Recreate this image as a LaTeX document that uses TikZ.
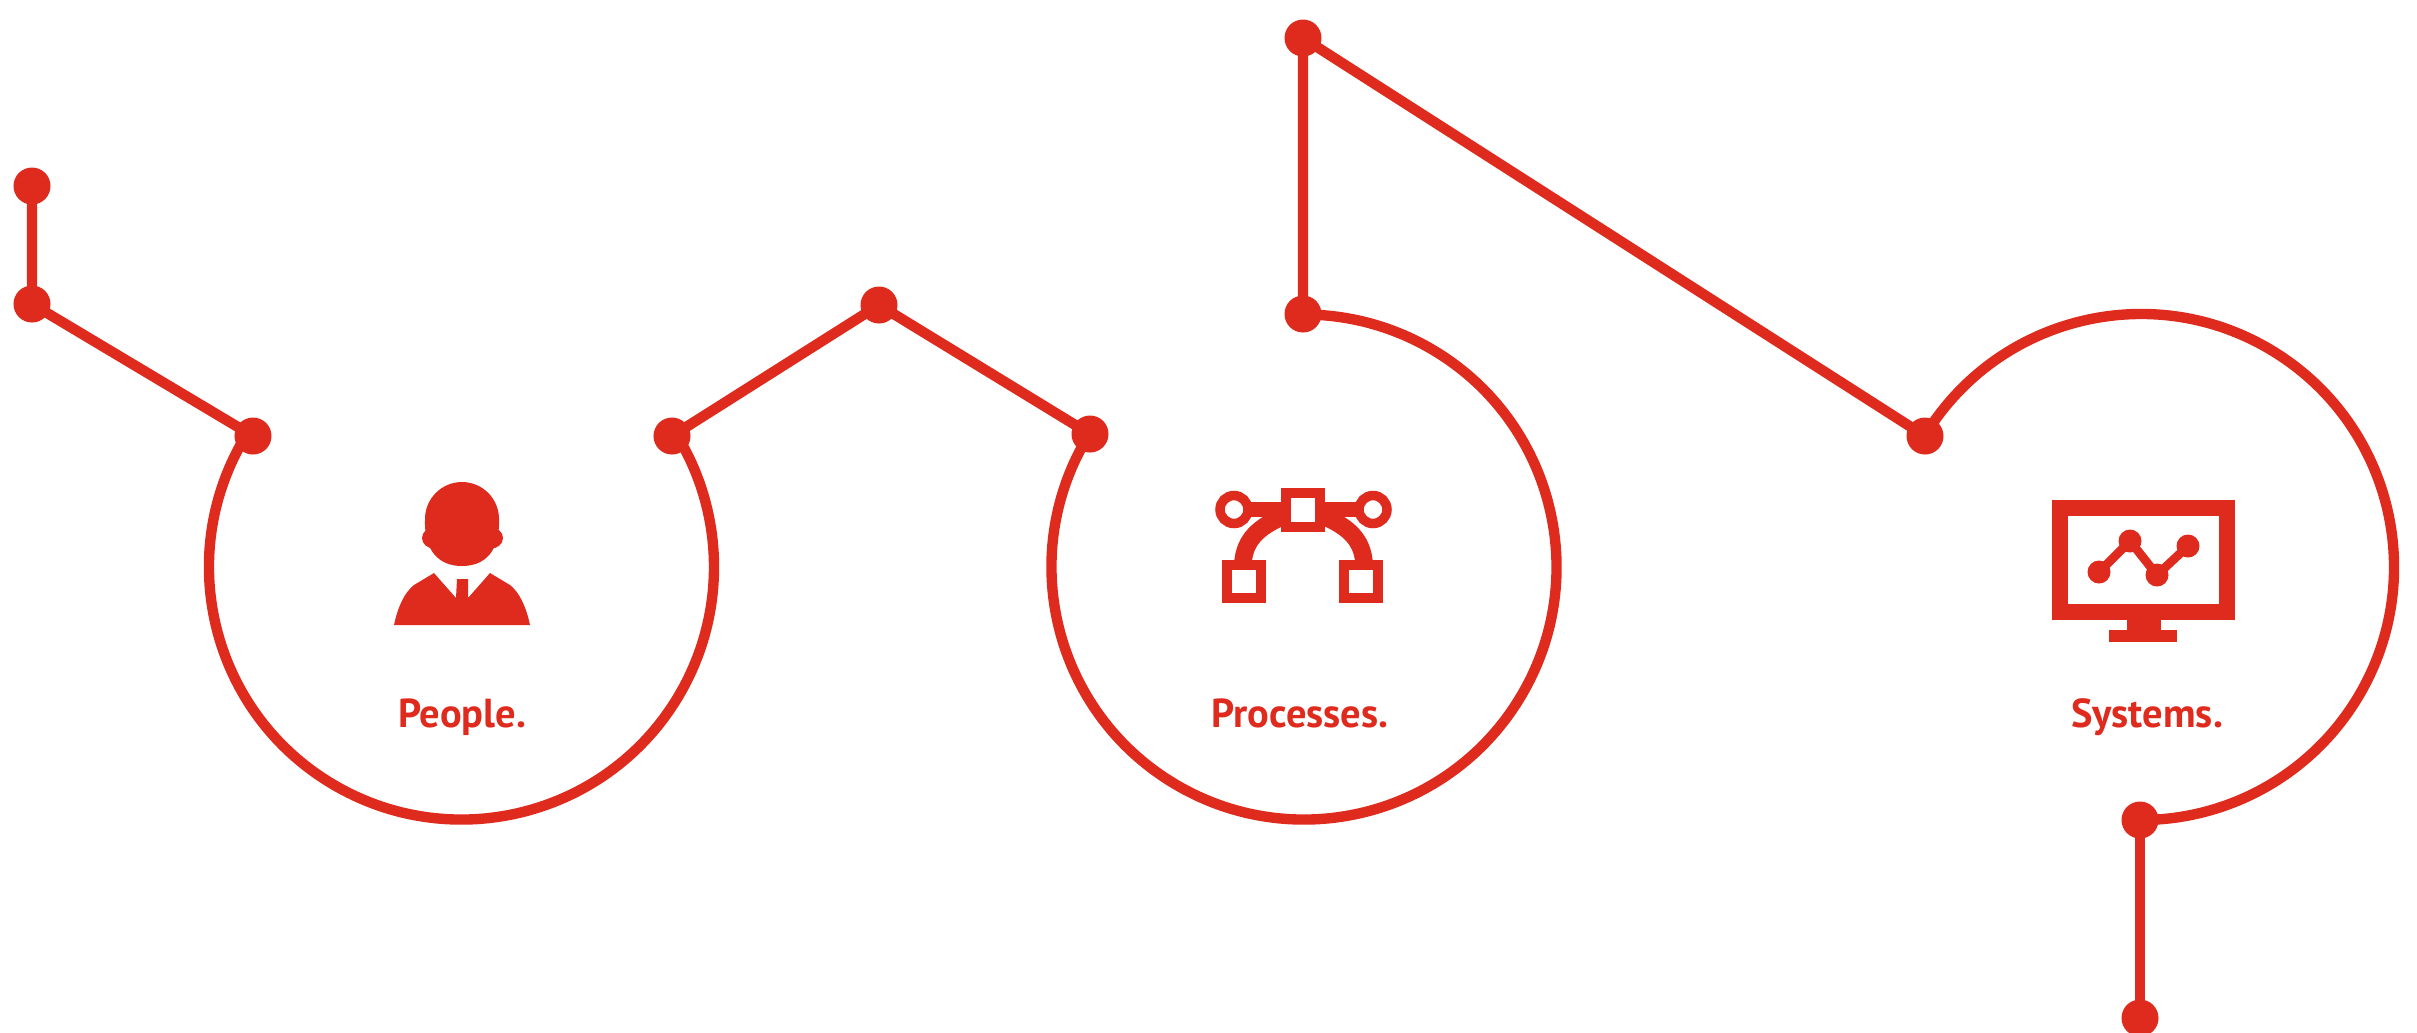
\documentclass[tikz,border=0pt]{standalone}
\usepackage{fontspec}
\setmainfont{PT Sans}
\definecolor{brandred}{HTML}{DF2A1E}
\tikzset{
  dot/.style={circle,fill=brandred,inner sep=0pt,minimum size=37*0.2845pt},
  wire/.style={draw=brandred,line width=2.95pt},
  thin icon/.style={draw=brandred,line width=2.9pt,fill=white},
  icon/.style={fill=brandred,draw=none},
  caption/.style={text=brandred,font=\fontsize{11.5}{13}\selectfont\bfseries,anchor=base,inner sep=0pt}
}
\begin{document}
\begin{tikzpicture}[x=0.01cm,y=-0.01cm]
\useasboundingbox (0,0) rectangle (2417,1032);
% anchor points of the three rings
\coordinate (c1) at (461.5,567);
\coordinate (c2) at (1304,567);
\coordinate (c3) at (2141,567);
% rings
\draw[wire] (c1) ++(210:252.5) arc[start angle=210,delta angle=-240,radius=252.5];
\draw[wire] (c2) ++(210:252.5) arc[start angle=210,delta angle=-300,radius=252.5];
\draw[wire] (c3) ++(213:253) arc[start angle=213,delta angle=237,radius=253];
% dots
\node[dot] (a) at (32,186) {};
\node[dot] (b) at (32,304) {};
\node[dot] (c) at (253,436) {};
\node[dot] (d) at (672,436) {};
\node[dot] (e) at (879,305) {};
\node[dot] (f) at (1090,434) {};
\node[dot] (g) at (1303,314) {};
\node[dot] (h) at (1303,38) {};
\node[dot] (i) at (1925,436) {};
\node[dot] (j) at (2140,820) {};
\node[dot] (k) at (2140,1018) {};
% connectors
\draw[wire] (a.center) -- (b.center) -- (c.center);
\draw[wire] (d.center) -- (e.center) -- (f.center);
\draw[wire] (g.center) -- (h.center) -- (i.center);
\draw[wire] (j.center) -- (k.center);
% person icon
\fill[icon] (425,519) arc[start angle=180,delta angle=180,radius=37]
  .. controls (500,550) and (486,566) .. (462,566)
  .. controls (438,566) and (424,550) .. (425,519) -- cycle;
\fill[icon] (434,538) ellipse[x radius=12,y radius=10.5];
\fill[icon] (491,538) ellipse[x radius=12,y radius=10.5];
\fill[icon] (394,625) .. controls (398,606) and (405,592) .. (414,585)
  -- (434,573) -- (456,598) -- (457,579) -- (468,579) -- (468,598) -- (490,573)
  -- (510,585) .. controls (519,592) and (526,606) .. (530,625) -- cycle;
% bezier icon
\draw[brandred,line width=4.2pt] (1234,509.5) -- (1373,509.5);
\draw[brandred,line width=5pt] (1243,562) .. controls (1245,540) and (1258,527) .. (1284,516);
\draw[brandred,line width=5pt] (1364,562) .. controls (1362,540) and (1349,527) .. (1323,516);
\draw[thin icon,line width=2.7pt] (1234,509.5) circle[radius=14];
\draw[thin icon,line width=2.7pt] (1373,509.5) circle[radius=14];
\draw[thin icon] (1286,493) rectangle (1320,527);
\draw[thin icon] (1227,565) rectangle (1261,598);
\draw[thin icon] (1344,565) rectangle (1378,598);
% monitor icon
\draw[brandred,line width=4.5pt] (2060,508) rectangle (2227,612);
\fill[icon] (2127,618) rectangle (2161,631);
\fill[icon] (2109,630) rectangle (2177,642);
\draw[brandred,line width=2.5pt] (2099,572) -- (2130,541) -- (2157,575) -- (2188,546);
\fill[icon] (2099,572) circle[radius=11.5];
\fill[icon] (2130,541) circle[radius=11.5];
\fill[icon] (2157,575) circle[radius=11.5];
\fill[icon] (2188,546) circle[radius=11.5];
% captions
\node[caption] (people) at (462,727) {People.};
\node[caption] (processes) at (1300,727) {Processes.};
\node[caption] (systems) at (2147,727) {Systems.};
\end{tikzpicture}
\end{document}
